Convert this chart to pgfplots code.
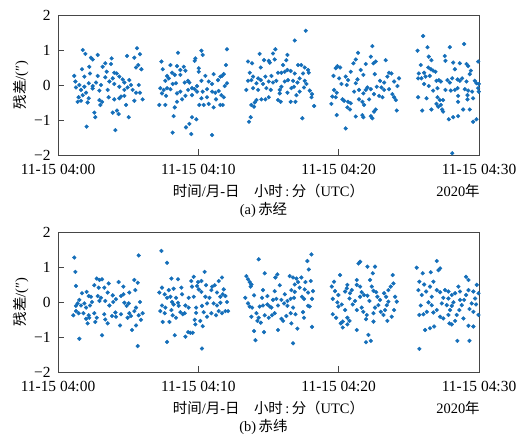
\documentclass[border=0pt]{standalone}
\usepackage{fontspec}
\setmainfont{Liberation Serif}
\newfontfamily\cjk{Noto Sans CJK SC}
\usepackage{pgfplots}
\usepackage{pgfplotstable}
\pgfplotsset{compat=1.18}

\definecolor{dotblue}{RGB}{20,110,185}
\definecolor{framegray}{RGB}{70,70,70}

% residuals in right ascension, x = minutes after 04:00
\pgfplotstableread{
x y
1.76 1.00
1.95 0.89
2.35 0.78
2.47 0.73
2.83 0.86
3.82 0.76
5.63 1.05
5.84 0.88
5.44 0.78
4.92 0.83
5.72 0.57
5.56 0.50
5.94 0.45
1.71 0.45
2.23 0.52
3.18 0.52
3.37 0.62
3.78 0.60
4.01 0.35
4.18 0.33
3.47 0.38
2.83 0.26
2.28 0.33
1.88 0.24
1.16 0.26
1.24 0.10
1.52 0.00
1.28 -0.07
1.64 -0.14
1.88 -0.05
2.19 0.05
2.47 -0.03
2.71 0.07
3.06 0.00
3.37 0.22
3.66 0.10
3.90 0.19
4.37 0.24
4.61 0.16
4.73 0.07
5.08 0.14
5.20 0.00
5.75 0.00
4.96 -0.07
5.32 -0.14
5.56 -0.22
5.84 -0.22
4.73 -0.14
4.37 -0.05
4.01 0.03
3.54 -0.14
2.95 -0.16
2.47 -0.10
2.00 -0.22
1.76 -0.29
1.47 -0.35
1.40 -0.48
1.64 -0.45
2.19 -0.38
2.11 -0.50
2.95 -0.43
3.14 -0.48
3.02 -0.57
3.61 -0.35
4.01 -0.41
4.37 -0.38
4.49 -0.33
4.73 -0.31
5.44 -0.45
6.03 -0.41
4.85 -0.57
2.59 -0.79
2.66 -0.92
3.90 -0.79
4.20 -0.73
4.32 -0.83
5.04 -0.92
2.04 -1.19
4.09 -1.29
8.55 0.92
10.22 0.98
10.31 0.86
9.79 0.76
9.74 0.69
12.04 1.02
11.97 0.57
7.37 0.67
7.46 0.45
8.01 0.57
8.48 0.54
8.72 0.43
8.96 0.52
9.08 0.41
8.13 0.35
7.77 0.26
7.65 0.12
7.89 0.19
8.32 0.29
8.72 0.29
10.03 0.48
10.03 0.38
10.50 0.26
11.09 0.31
11.57 0.24
11.81 0.31
11.69 0.26
11.40 0.14
12.04 0.05
11.88 -0.03
10.74 0.10
10.98 0.03
10.22 0.12
9.91 -0.03
9.27 0.12
9.36 0.07
9.03 0.07
8.41 0.05
8.17 0.03
7.29 -0.09
7.53 -0.14
7.77 -0.09
8.01 -0.12
7.41 -0.24
7.70 -0.31
8.48 -0.24
8.72 -0.19
9.27 -0.14
9.55 -0.09
9.74 -0.12
9.91 -0.19
9.55 -0.29
10.31 -0.19
10.62 -0.12
10.98 -0.19
11.21 -0.22
11.45 -0.17
11.64 -0.29
11.81 -0.35
11.26 -0.41
10.62 -0.35
10.22 -0.38
9.08 -0.31
8.84 -0.41
8.48 -0.48
7.22 -0.57
7.65 -0.57
8.32 -0.64
10.07 -0.57
10.38 -0.57
10.74 -0.54
11.09 -0.64
11.57 -0.57
11.74 -0.57
8.24 -0.89
9.55 -0.92
9.86 -0.98
9.36 -1.11
9.12 -1.21
8.17 -1.36
9.50 -1.40
10.98 -1.43
17.65 1.55
16.87 1.27
15.49 1.02
15.32 0.90
14.37 0.89
14.68 0.71
15.02 0.69
15.09 0.64
15.44 0.73
16.35 0.86
16.27 0.71
16.04 0.57
13.54 0.67
13.83 0.62
14.45 0.50
17.11 0.57
17.34 0.57
17.58 0.50
17.82 0.43
17.87 0.35
17.46 0.33
13.66 0.35
13.90 0.24
13.78 0.14
14.26 0.19
14.45 0.14
14.78 0.24
15.21 0.26
15.68 0.35
15.92 0.35
16.16 0.38
16.35 0.43
16.58 0.40
16.87 0.33
17.22 0.19
17.58 0.12
17.70 0.03
17.06 0.07
16.75 0.12
16.39 0.14
16.16 0.10
15.56 0.12
15.32 0.07
15.02 0.10
14.61 0.03
14.14 0.05
13.54 0.12
13.42 -0.14
13.90 -0.09
14.26 -0.14
14.85 -0.09
15.16 -0.14
15.92 -0.05
15.80 -0.14
16.63 -0.09
16.82 -0.05
17.22 -0.19
17.53 -0.07
17.94 -0.16
18.10 -0.26
18.06 -0.35
16.99 -0.29
16.35 -0.22
15.80 -0.24
15.02 -0.35
14.78 -0.41
14.49 -0.41
14.14 -0.43
14.02 -0.50
13.78 -0.57
13.97 -0.62
15.68 -0.43
15.87 -0.48
16.58 -0.48
16.92 -0.48
18.25 -0.60
13.73 -0.92
13.61 -1.05
17.41 -0.95
22.40 1.11
21.38 0.92
21.22 0.73
22.29 0.81
22.64 0.67
22.48 0.62
23.35 0.71
21.93 0.60
21.05 0.62
19.91 0.54
20.10 0.50
19.79 0.48
20.86 0.38
21.57 0.43
21.76 0.29
22.57 0.31
23.59 0.35
23.76 0.33
23.47 0.24
24.30 0.19
19.63 0.26
20.03 0.19
20.50 0.24
20.67 0.14
21.34 0.16
22.95 0.12
23.24 0.07
23.95 0.10
24.19 -0.03
20.20 0.03
20.58 0.00
21.22 0.05
22.05 -0.07
21.93 -0.14
22.29 -0.12
22.71 -0.05
23.05 -0.07
23.24 -0.14
23.59 -0.12
19.67 -0.14
19.86 -0.22
21.10 -0.19
21.45 -0.14
21.76 -0.24
22.52 -0.26
22.88 -0.31
23.12 -0.35
23.83 -0.26
23.95 -0.35
24.07 -0.43
19.55 -0.33
19.79 -0.35
20.27 -0.41
20.39 -0.45
20.67 -0.48
20.86 -0.52
21.45 -0.41
21.69 -0.48
22.17 -0.41
19.48 -0.54
20.62 -0.64
20.81 -0.70
21.81 -0.57
22.64 -0.70
22.52 -0.76
22.29 -0.89
22.40 -0.95
24.14 -0.73
19.86 -0.86
21.22 -0.90
21.69 -0.86
21.76 -0.92
20.50 -1.24
26.02 1.40
25.62 0.98
26.33 1.08
27.92 1.08
28.94 1.17
27.56 0.83
27.61 0.69
26.42 0.81
26.61 0.71
25.85 0.57
26.38 0.50
26.57 0.45
26.73 0.41
26.90 0.38
28.16 0.64
28.63 0.62
29.11 0.60
29.94 0.67
28.28 0.45
29.42 0.41
29.34 0.31
29.23 0.54
25.71 0.33
26.09 0.35
25.66 0.19
25.90 0.19
26.19 0.24
26.49 0.26
26.97 0.12
27.14 0.14
27.28 0.10
27.75 0.14
27.92 0.07
28.09 0.19
28.47 0.16
28.63 0.12
28.80 0.19
29.11 0.10
29.70 0.12
29.82 0.05
29.99 0.03
26.09 0.03
26.42 -0.03
26.73 -0.16
27.04 -0.09
27.61 -0.14
27.99 -0.16
28.28 -0.14
28.47 -0.09
28.99 -0.12
29.23 -0.16
29.51 -0.19
29.94 -0.09
29.98 -0.19
28.51 -0.31
29.18 -0.29
25.66 -0.35
26.26 -0.38
27.04 -0.35
27.21 -0.43
27.44 -0.43
26.97 -0.54
27.28 -0.57
27.09 -0.62
27.37 -0.70
27.44 -0.76
25.95 -0.73
26.61 -0.70
28.51 -0.48
28.87 -0.70
29.34 -0.70
29.18 -0.41
29.58 -0.38
27.85 -0.98
28.16 -0.92
28.51 -0.89
29.58 -1.05
29.82 -0.98
28.09 -1.95
}\ra

% residuals in declination
\pgfplotstableread{
x y
1.16 1.27
5.75 1.33
1.24 0.86
1.28 0.46
2.76 0.67
2.95 0.63
3.14 0.65
3.61 0.53
4.32 0.57
4.66 0.44
5.44 0.63
5.68 0.55
5.51 0.34
2.59 0.48
2.90 0.41
3.30 0.41
1.71 0.25
2.04 0.29
2.19 0.17
2.35 0.15
2.83 0.17
3.06 0.12
3.54 0.27
3.90 0.19
4.13 0.08
4.49 0.17
4.66 0.22
5.08 0.27
1.52 0.06
1.40 -0.04
1.28 -0.11
1.64 -0.10
1.88 -0.04
2.00 -0.16
2.28 -0.10
2.42 0.00
2.95 0.03
3.37 0.03
3.66 -0.10
3.94 0.00
4.73 -0.02
4.89 -0.11
5.04 -0.04
5.56 -0.16
5.84 0.00
1.28 -0.26
1.09 -0.38
1.47 -0.32
1.81 -0.32
2.19 -0.38
2.23 -0.45
2.59 -0.32
2.76 -0.45
3.30 -0.35
3.37 -0.50
3.54 -0.61
3.85 -0.40
4.09 -0.30
4.13 -0.42
4.49 -0.35
4.42 -0.67
5.08 -0.32
5.20 -0.40
5.44 -0.26
5.75 -0.38
6.03 -0.32
5.91 -0.51
5.56 -0.67
2.11 -0.61
2.66 -0.57
2.00 -0.48
4.96 -0.45
5.27 -0.80
3.14 -0.95
1.52 -1.05
5.68 -1.26
7.37 1.46
7.77 1.12
8.08 0.67
8.55 0.65
9.67 0.72
10.45 0.86
9.50 0.60
9.98 0.57
10.22 0.60
10.55 0.48
11.69 0.70
11.45 0.60
7.41 0.41
7.89 0.34
8.24 0.38
8.79 0.41
9.55 0.44
9.91 0.46
10.03 0.36
10.98 0.44
11.17 0.48
11.81 0.36
7.22 0.27
7.60 0.22
7.77 0.12
8.01 0.15
8.41 0.12
8.84 0.22
9.31 0.12
9.67 0.15
10.22 0.29
10.50 0.15
10.79 0.12
10.93 0.34
11.33 0.27
11.57 0.15
11.74 0.22
11.93 0.17
7.41 -0.10
7.65 -0.16
8.13 0.00
8.24 -0.07
8.55 -0.02
8.60 -0.11
9.08 -0.10
9.31 -0.16
9.84 -0.16
10.26 -0.11
10.62 -0.04
11.09 -0.04
11.33 -0.10
11.57 -0.02
12.04 0.00
7.29 -0.26
7.60 -0.32
8.08 -0.23
8.17 -0.38
8.41 -0.45
8.72 -0.29
8.89 -0.35
9.03 -0.32
9.84 -0.31
10.38 -0.29
10.62 -0.42
10.93 -0.32
11.26 -0.38
11.45 -0.26
11.69 -0.32
11.93 -0.26
12.12 -0.26
7.46 -0.57
7.94 -0.57
9.74 -0.51
9.79 -0.64
10.14 -0.54
10.31 -0.69
9.27 -0.86
9.43 -0.88
9.60 -0.88
8.32 -0.95
9.08 -0.99
7.77 -1.14
10.26 -1.33
14.30 1.22
18.06 1.36
17.77 1.17
17.87 0.93
14.73 0.82
15.63 0.79
15.49 0.70
13.42 0.74
13.54 0.65
13.66 0.57
13.78 0.50
13.73 0.44
16.51 0.74
16.75 0.70
16.99 0.67
17.34 0.70
17.11 0.57
17.63 0.57
18.01 0.60
16.87 0.50
17.22 0.41
14.61 0.34
15.44 0.31
15.80 0.48
16.16 0.22
16.63 0.34
16.87 0.29
17.58 0.36
17.82 0.27
18.17 0.31
13.35 0.12
13.97 0.19
14.54 0.12
14.92 0.17
15.32 0.06
15.56 0.09
15.92 0.06
16.35 0.03
16.58 0.09
16.82 0.12
17.39 0.15
17.53 0.09
18.10 0.09
13.54 -0.04
13.66 -0.13
13.83 -0.16
14.37 -0.13
14.61 -0.10
14.92 -0.07
15.09 -0.13
15.21 -0.16
15.68 -0.10
16.11 -0.04
16.35 -0.11
16.75 -0.16
17.82 -0.11
17.94 -0.13
13.78 -0.42
14.14 -0.32
14.30 -0.45
14.21 -0.54
14.45 -0.59
14.73 -0.38
15.02 -0.45
15.25 -0.38
15.44 -0.32
15.92 -0.48
16.04 -0.54
16.27 -0.40
16.58 -0.32
16.92 -0.35
17.46 -0.29
17.53 -0.45
13.97 -0.83
14.68 -0.86
15.68 -0.80
16.63 -0.61
17.06 -0.76
18.10 -0.71
14.07 -1.09
16.75 -1.18
20.10 0.77
19.67 0.58
19.51 0.44
19.74 0.31
19.98 0.20
19.58 0.09
19.91 -0.01
20.22 -0.07
19.98 -0.13
19.58 -0.35
19.82 -0.45
20.29 -0.56
20.15 -0.61
20.77 -0.54
20.62 -0.64
20.29 -0.73
21.29 -0.80
20.62 0.49
20.58 0.39
20.46 0.30
20.81 0.25
20.93 0.34
21.29 0.49
21.53 0.44
21.64 0.28
21.53 0.15
21.17 0.03
21.00 -0.07
21.29 -0.23
21.64 -0.16
21.76 -0.28
22.00 -0.37
21.95 -0.49
21.53 1.15
21.41 1.10
22.05 1.01
22.59 1.01
22.43 0.82
22.24 0.63
22.36 0.44
22.48 0.32
22.67 0.28
22.76 0.15
22.95 0.06
22.83 -0.09
22.59 -0.16
22.48 -0.32
22.19 0.03
22.05 0.18
21.81 0.20
23.00 -0.28
23.19 -0.37
23.31 -0.23
23.43 -0.09
23.54 0.01
23.38 0.15
23.24 0.25
23.54 0.34
23.71 0.44
23.90 0.53
23.85 0.77
24.02 0.15
24.14 0.01
23.95 -0.23
23.78 -0.42
23.47 -0.54
22.48 -0.56
22.12 -0.94
21.95 -1.15
22.29 -1.11
21.29 0.63
20.77 0.10
20.46 -0.23
20.62 -0.45
26.99 1.17
27.23 0.96
27.11 0.91
25.56 0.98
25.99 0.82
26.56 0.85
25.75 0.58
26.09 0.50
25.68 0.34
25.92 0.20
26.23 0.30
26.51 0.44
26.75 0.58
26.40 -0.01
26.63 -0.09
25.85 -0.10
26.04 -0.35
25.75 -0.37
26.16 -0.80
26.51 -0.75
26.80 -0.70
26.75 -0.30
26.99 -0.23
27.35 -0.04
27.46 0.12
27.23 0.28
26.99 0.34
27.58 0.34
27.82 0.30
28.06 0.20
28.30 0.25
27.70 -0.09
27.94 -0.23
28.41 -0.37
28.60 -0.23
28.77 -0.09
28.94 0.06
29.08 0.20
29.25 0.34
29.60 0.30
29.84 0.49
29.96 0.25
29.72 0.10
29.48 -0.04
29.32 -0.20
29.60 -0.28
29.96 -0.37
28.65 0.30
28.53 0.44
29.08 0.72
29.25 0.63
28.18 -0.01
27.82 -0.37
27.46 -0.47
27.89 -0.61
28.06 -0.64
28.30 -0.54
28.89 -0.47
29.25 -0.68
29.60 -0.70
28.46 -1.11
29.32 -1.11
25.75 -1.34
26.28 -0.28
27.23 -0.42
26.63 0.15
27.82 0.10
29.79 -0.07
28.65 0.06
28.06 -0.11
}\dec

\tikzset{lbl/.style={font=\fontsize{14.5}{17}\selectfont, anchor=center}}

\pgfplotsset{
  resid/.style={
    scale only axis,
    width=421bp, height=140bp,
    xmin=0, xmax=30, ymin=-2, ymax=2,
    clip mode=individual,
    xtick={0,10,20,30},
    xticklabels={11-15 04:00,11-15 04:10,11-15 04:20,11-15 04:30},
    ytick={-2,-1,0,1,2},
    yticklabels={−2,−1,0,1,2},
    tick align=inside,
    xtick pos=bottom, ytick pos=left,
    major tick length=6bp,
    axis line style={framegray, line width=1bp},
    every tick/.style={framegray, line width=0.8bp},
    tick label style={font=\fontsize{15.5}{17}\selectfont},
    x tick label style={yshift=-6bp},
    y tick label style={xshift=-4bp},
    ylabel={{\cjk 残差}/(″)},
    ylabel style={at={(axis description cs:-0.088,0.5)}, anchor=center,
      font=\fontsize{14.5}{17}\selectfont},
    xlabel={{\cjk 时间}/{\cjk 月}-{\cjk 日}\quad{\cjk 小时}\,:\,{\cjk 分（}UTC{\cjk ）}},
    xlabel style={at={(axis description cs:0.5,0)}, anchor=center, yshift=-36bp,
      font=\fontsize{14.5}{17}\selectfont},
  },
  dots/.style={only marks, mark=*, mark size=1.9bp, color=dotblue,
    mark options={draw=none, fill=dotblue}},
}

\begin{document}
\begin{tikzpicture}
\useasboundingbox (-58bp,-282bp) rectangle (466bp,155bp);

\begin{axis}[resid, name=ra, at={(0,0)}, anchor=south west]
\addplot[dots] table[x=x, y=y] {\ra};
\node[lbl, xshift=-21bp, yshift=-36bp] at (rel axis cs:1,0) {2020{\cjk 年}};
\node[lbl, xshift=-5bp, yshift=-55bp] at (rel axis cs:0.5,0) {(a)\,{\cjk 赤经}};
\end{axis}

\begin{axis}[resid, name=dec, at={(0,-217bp)}, anchor=south west]
\addplot[dots] table[x=x, y=y] {\dec};
\node[lbl, xshift=-21bp, yshift=-36bp] at (rel axis cs:1,0) {2020{\cjk 年}};
\node[lbl, xshift=-5bp, yshift=-55bp] at (rel axis cs:0.5,0) {(b)\,{\cjk 赤纬}};
\end{axis}
\end{tikzpicture}
\end{document}
